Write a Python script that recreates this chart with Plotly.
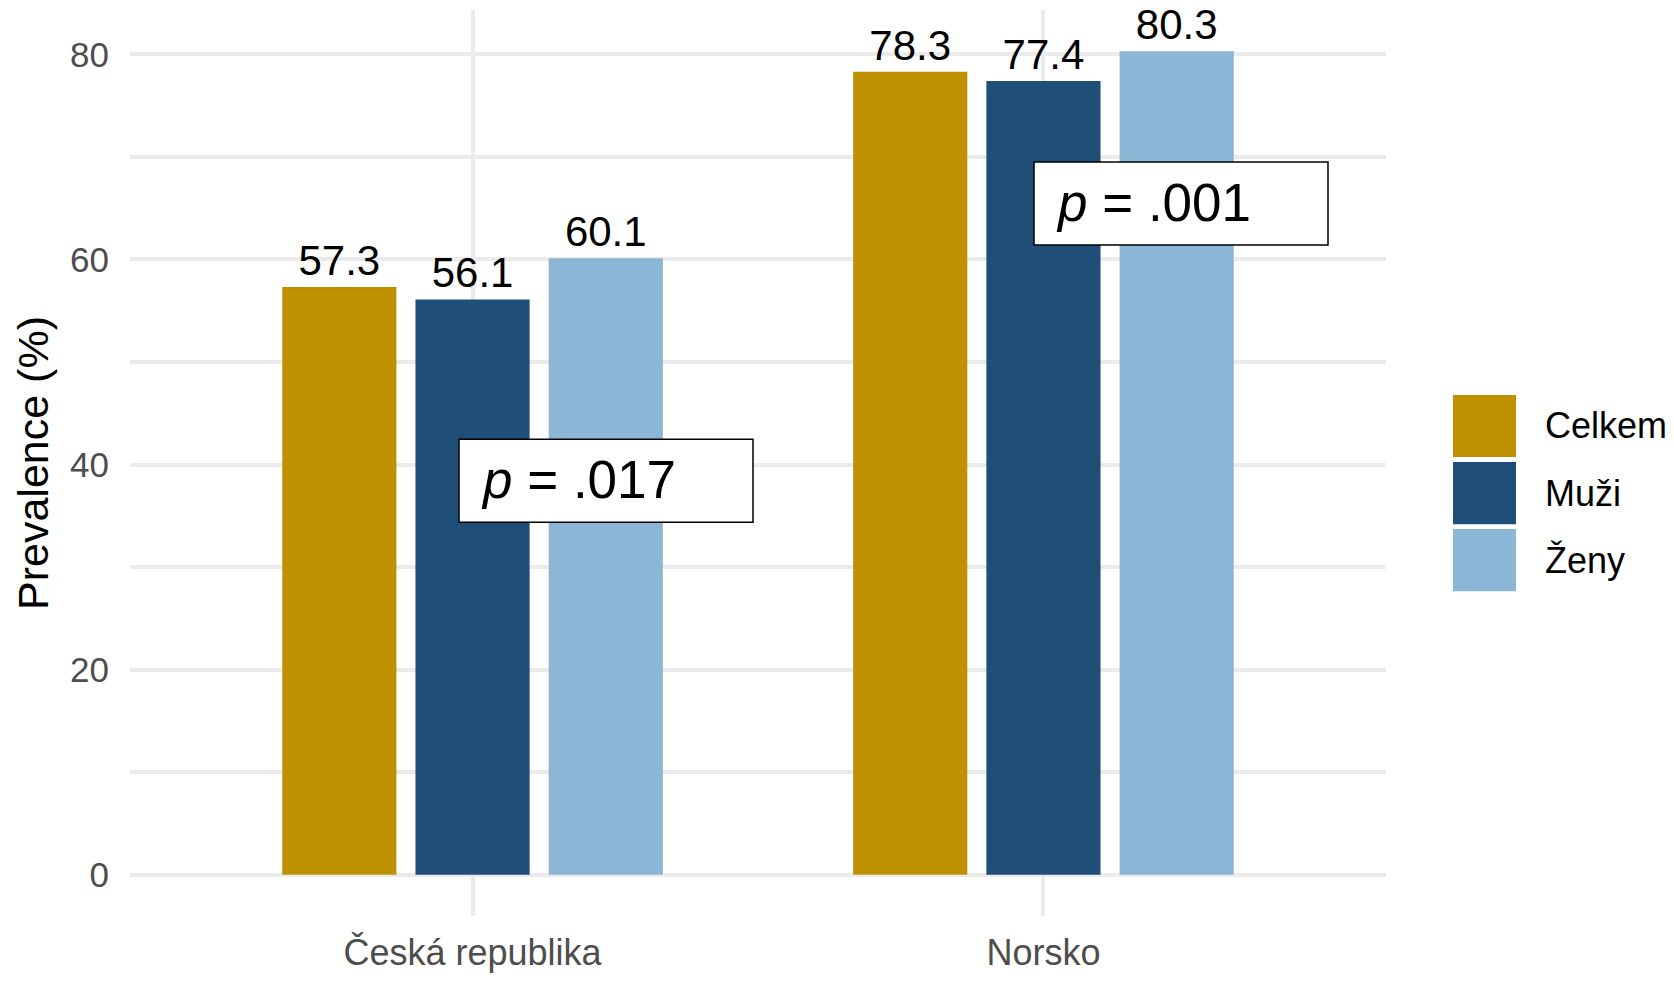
import plotly.graph_objects as go

# ---- data ----
countries = ["Česká republika", "Norsko"]
series_names = ["Celkem", "Muži", "Ženy"]
celkem = [57.3, 78.3]
muzi = [56.1, 77.4]
zeny = [60.1, 80.3]
p_values = [".017", ".001"]

# ---- styles ----
colors = ["#BF9000", "#1F4E79", "#8BB6D6"]
FONT = "Liberation Sans, Arial, Helvetica, sans-serif"
W, H = 1674, 983
L, R, T, B = 130, 288, 10, 55
PW, PH = W - L - R, H - T - B
Y_RANGE = [-4.015, 84.315]
X_RANGE = [-0.6, 1.6]

def xdata(px):
    return X_RANGE[0] + (px - L) / PW * (X_RANGE[1] - X_RANGE[0])

def ydata(py):
    return Y_RANGE[1] - (py - T) / PH * (Y_RANGE[1] - Y_RANGE[0])

def xpaper(px):
    return (px - L) / PW

def ypaper(py):
    return (H - B - py) / PH

fig = go.Figure()
for name, vals, col in zip(series_names, [celkem, muzi, zeny], colors):
    fig.add_trace(go.Bar(
        x=countries, y=vals, name=name, marker=dict(color=col, line=dict(width=0)),
        texttemplate="%{y:.1f}", textposition="outside", cliponaxis=False,
        constraintext="none",
        textfont=dict(size=42, color="black", family=FONT),
        showlegend=False,
    ))

shapes = []
annotations = []

# p-value boxes (pixel positions from layout)
p_boxes = [(459, 753, 445, 529), (1034, 1328, 164, 248)]
for (x0, x1, y0, y1), pv in zip(p_boxes, p_values):
    shapes.append(dict(type="rect", xref="x", yref="y",
                       x0=xdata(x0), x1=xdata(x1), y0=ydata(y0), y1=ydata(y1),
                       fillcolor="white", line=dict(color="black", width=1.5),
                       layer="above"))
    annotations.append(dict(xref="x", yref="y", x=xdata(x0 + 20), y=ydata((y0 + y1) / 2 - 1),
                            xanchor="left", yanchor="middle", showarrow=False,
                            text="<i>p</i> = " + pv,
                            font=dict(size=53, color="black", family=FONT)))

# legend (manual, large keys)
key_tops = [400, 468, 536]
for name, col, top in zip(series_names, colors, key_tops):
    shapes.append(dict(type="rect", xref="paper", yref="paper",
                       x0=xpaper(1453), x1=xpaper(1516), y0=ypaper(top + 63), y1=ypaper(top),
                       fillcolor=col, line=dict(width=0), layer="above"))
    annotations.append(dict(xref="paper", yref="paper", x=xpaper(1543), y=ypaper(top + 31.5),
                            xanchor="left", yanchor="middle", showarrow=False, text=name,
                            font=dict(size=36, color="black", family=FONT)))

fig.update_layout(
    width=W, height=H,
    margin=dict(l=L, r=R, t=T, b=B),
    paper_bgcolor="white", plot_bgcolor="white",
    barmode="group", bargap=0.3, bargroupgap=0.143,
    font=dict(family=FONT),
    shapes=shapes, annotations=annotations,
    showlegend=False,
)
fig.update_xaxes(
    range=X_RANGE, showgrid=True, gridcolor="#EBEBEB", gridwidth=4,
    zeroline=False, showline=False, ticks="",
    tickfont=dict(size=36, color="#4D4D4D", family=FONT),
    ticklabelstandoff=12,
)
fig.update_yaxes(
    range=Y_RANGE, tick0=0, dtick=20, showgrid=True, gridcolor="#EBEBEB", gridwidth=4,
    minor=dict(dtick=10, tick0=0, showgrid=True, gridcolor="#EBEBEB", gridwidth=3.5),
    zeroline=False, showline=False, ticks="",
    tickfont=dict(size=35, color="#4D4D4D", family=FONT),
    ticklabelstandoff=20,
    title=dict(text="Prevalence (%)", font=dict(size=43, color="black", family=FONT), standoff=8),
    automargin=False,
)

fig.write_html("out.html", config={"displayModeBar": False},
               post_script="document.body.style.margin='0';document.body.style.overflow='hidden';")
